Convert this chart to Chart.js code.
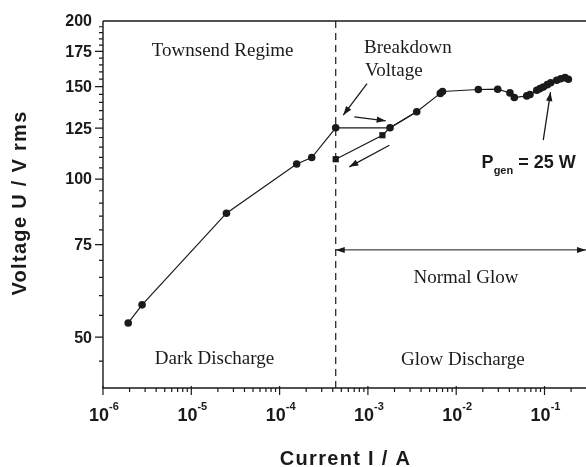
<!DOCTYPE html>
<html>
<head>
<meta charset="utf-8">
<script src="https://cdn.jsdelivr.net/npm/chart.js@4.4.0/dist/chart.umd.min.js"></script>
<style>
  html, body { margin: 0; padding: 0; background: #fff; }
  #chart { display: block; }
</style>
</head>
<body>
<canvas id="chart" width="586" height="467"></canvas>
<script>
// increasing current (circles)
const upCurrent = [1.93e-6, 2.77e-6, 2.5e-5, 1.56e-4, 2.31e-4, 4.32e-4, 1.78e-3, 3.57e-3,
  6.6e-3, 7.0e-3, 1.78e-2, 2.95e-2, 4.06e-2, 4.55e-2, 6.29e-2, 6.85e-2, 8.17e-2, 8.9e-2,
  9.7e-2, 0.1076, 0.1175, 0.1374, 0.1525, 0.1706, 0.1862];
const upVoltage = [53.2, 57.6, 86.1, 106.8, 109.9, 125.2, 125.2, 134.3,
  145.6, 146.8, 148.1, 148.3, 145.9, 143.0, 144.0, 144.9, 147.6, 148.7,
  149.7, 151.3, 152.6, 154.2, 155.3, 156.0, 154.9];

// decreasing current (squares), first two points lie on the up branch
const downCurrent = [3.57e-3, 1.78e-3, 1.46e-3, 4.32e-4];
const downVoltage = [134.3, 125.2, 121.2, 109.1];
const downMarker = [0, 0, 4.4, 4.4];

const xMin = 1e-6, xMax = 0.295;
const yMin = 40, yMax = 200;
const xTickExp = [-6, -5, -4, -3, -2, -1];
const yTickLabels = [50, 75, 100, 125, 150, 175, 200];

const breakdownCurrent = 4.32e-4;
const normalGlowVoltage = 73.3;

// annotation texts, anchored in data space
const serifTexts = [
  { text: 'Townsend Regime', x: 2.26e-5, y: 171.3, align: 'center' },
  { text: 'Breakdown', x: 9.04e-4, y: 173.8, align: 'left' },
  { text: 'Voltage', x: 9.27e-4, y: 157.1, align: 'left' },
  { text: 'Normal Glow', x: 1.29e-2, y: 63.4, align: 'center' },
  { text: 'Glow Discharge', x: 1.19e-2, y: 44.3, align: 'center' },
  { text: 'Dark Discharge', x: 1.83e-5, y: 44.4, align: 'center' }
];
// arrows [x1, y1, x2, y2] (tail -> head)
const arrows = [
  [9.77e-4, 152.0, 5.26e-4, 132.4],
  [7.02e-4, 131.4, 1.59e-3, 129.1],
  [1.75e-3, 116.0, 6.15e-4, 105.5],
  [9.68e-2, 118.6, 0.117, 146.4]
];
const pgenAnchor = [1.94e-2, 104.8];

const SANS = '"Liberation Sans", Arial, sans-serif';
const SERIF = '"Liberation Serif", "Times New Roman", serif';
const INK = '#1a1a1a';

function arrowHead(ctx, x1, y1, x2, y2, len, half) {
  const a = Math.atan2(y2 - y1, x2 - x1);
  ctx.beginPath();
  ctx.moveTo(x2, y2);
  ctx.lineTo(x2 - len * Math.cos(a) + half * Math.sin(a), y2 - len * Math.sin(a) - half * Math.cos(a));
  ctx.lineTo(x2 - len * Math.cos(a) - half * Math.sin(a), y2 - len * Math.sin(a) + half * Math.cos(a));
  ctx.closePath();
  ctx.fill();
}

function drawArrow(ctx, x1, y1, x2, y2) {
  ctx.beginPath();
  ctx.moveTo(x1, y1);
  ctx.lineTo(x2, y2);
  ctx.stroke();
  arrowHead(ctx, x1, y1, x2, y2, 9, 3.2);
}

const decor = {
  id: 'decor',
  beforeDatasetsDraw(chart) {
    const { ctx, chartArea: area } = chart;
    const xs = chart.scales.x, ys = chart.scales.y;
    ctx.save();
    ctx.strokeStyle = INK;
    ctx.fillStyle = INK;

    // dashed breakdown line
    const bx = xs.getPixelForValue(breakdownCurrent);
    ctx.lineWidth = 1.2;
    ctx.setLineDash([7, 5]);
    ctx.beginPath();
    ctx.moveTo(bx, area.top);
    ctx.lineTo(bx, area.bottom);
    ctx.stroke();
    ctx.setLineDash([]);

    // normal glow range
    const gy = ys.getPixelForValue(normalGlowVoltage);
    ctx.lineWidth = 1;
    ctx.beginPath();
    ctx.moveTo(bx, gy);
    ctx.lineTo(area.right, gy);
    ctx.stroke();
    arrowHead(ctx, area.right - 20, gy, area.right, gy, 9, 3);
    arrowHead(ctx, bx + 20, gy, bx, gy, 9, 3);

    ctx.lineWidth = 1.3;
    arrows.forEach(a => {
      drawArrow(ctx, xs.getPixelForValue(a[0]), ys.getPixelForValue(a[1]),
        xs.getPixelForValue(a[2]), ys.getPixelForValue(a[3]));
    });

    ctx.font = '19px ' + SERIF;
    ctx.textBaseline = 'alphabetic';
    serifTexts.forEach(t => {
      ctx.textAlign = t.align;
      ctx.fillText(t.text, xs.getPixelForValue(t.x), ys.getPixelForValue(t.y));
    });

    // P_gen = 25 W
    let px = xs.getPixelForValue(pgenAnchor[0]);
    const py = ys.getPixelForValue(pgenAnchor[1]);
    ctx.textAlign = 'left';
    ctx.font = 'bold 18px ' + SANS;
    ctx.fillText('P', px, py);
    px += ctx.measureText('P').width;
    ctx.font = 'bold 11px ' + SANS;
    ctx.fillText('gen', px, py + 6);
    px += ctx.measureText('gen').width;
    ctx.font = 'bold 18px ' + SANS;
    ctx.fillText(' = 25 W', px, py);
    ctx.restore();
  },
  afterDraw(chart) {
    const { ctx, chartArea: area } = chart;
    const xs = chart.scales.x, ys = chart.scales.y;
    ctx.save();
    ctx.strokeStyle = INK;
    ctx.fillStyle = INK;
    ctx.lineWidth = 1.4;

    // axis lines + top frame
    ctx.beginPath();
    ctx.moveTo(area.left, area.top);
    ctx.lineTo(area.right, area.top);
    ctx.moveTo(area.left, area.top);
    ctx.lineTo(area.left, area.bottom);
    ctx.lineTo(area.right, area.bottom);
    ctx.stroke();

    // x ticks
    ctx.lineWidth = 1.2;
    ctx.beginPath();
    xTickExp.forEach(k => {
      const major = Math.pow(10, k);
      const x = xs.getPixelForValue(major);
      ctx.moveTo(x, area.bottom - 2);
      ctx.lineTo(x, area.bottom + 7);
      for (let m = 2; m <= 9; m++) {
        const v = m * major;
        if (v > xMax) break;
        const xm = xs.getPixelForValue(v);
        ctx.moveTo(xm, area.bottom);
        ctx.lineTo(xm, area.bottom + 4);
      }
    });
    // y ticks
    for (let v = 45; v < yMax; v += 5) {
      const y = ys.getPixelForValue(v);
      const len = v % 25 === 0 ? 8 : 4;
      ctx.moveTo(area.left, y);
      ctx.lineTo(area.left - len, y);
    }
    ctx.stroke();

    // x tick labels 10^k
    xTickExp.forEach(k => {
      const x = xs.getPixelForValue(Math.pow(10, k));
      ctx.font = 'bold 18px ' + SANS;
      const w1 = ctx.measureText('10').width;
      ctx.font = 'bold 11px ' + SANS;
      const w2 = ctx.measureText(String(k)).width;
      const left = x - (w1 + w2) / 2 + 1;
      ctx.textAlign = 'left';
      ctx.textBaseline = 'alphabetic';
      ctx.font = 'bold 18px ' + SANS;
      ctx.fillText('10', left, area.bottom + 33);
      ctx.font = 'bold 11px ' + SANS;
      ctx.fillText(String(k), left + w1, area.bottom + 22);
    });

    // y tick labels
    ctx.font = 'bold 16px ' + SANS;
    ctx.textAlign = 'right';
    ctx.textBaseline = 'middle';
    yTickLabels.forEach(v => {
      ctx.fillText(String(v), area.left - 11, ys.getPixelForValue(v) + 1);
    });

    // axis titles
    ctx.font = 'bold 20px ' + SANS;
    ctx.letterSpacing = '1.3px';
    ctx.textAlign = 'center';
    ctx.textBaseline = 'alphabetic';
    ctx.fillText('Current I / A', (area.left + area.right) / 2 + 1, 465);
    ctx.translate(26, 203);
    ctx.rotate(-Math.PI / 2);
    ctx.fillText('Voltage U / V rms', 0, 0);
    ctx.restore();
  }
};

new Chart(document.getElementById('chart'), {
  type: 'line',
  data: {
    datasets: [
      {
        label: 'increasing',
        data: upCurrent.map((x, i) => ({ x: x, y: upVoltage[i] })),
        borderColor: INK,
        backgroundColor: INK,
        borderWidth: 1.2,
        pointStyle: 'circle',
        pointRadius: 3.8,
        pointBorderWidth: 0,
        tension: 0
      },
      {
        label: 'decreasing',
        data: downCurrent.map((x, i) => ({ x: x, y: downVoltage[i] })),
        borderColor: INK,
        backgroundColor: INK,
        borderWidth: 1.2,
        pointStyle: 'rect',
        pointRadius: downMarker,
        pointBorderWidth: 0,
        tension: 0
      }
    ]
  },
  options: {
    responsive: false,
    animation: false,
    devicePixelRatio: 1,
    layout: { autoPadding: false, padding: { top: 21, right: 0, left: 0, bottom: 0 } },
    plugins: { legend: { display: false }, tooltip: { enabled: false } },
    scales: {
      x: {
        type: 'logarithmic',
        min: xMin,
        max: xMax,
        grid: { display: false },
        border: { display: false },
        ticks: { display: false },
        afterFit: s => { s.height = 79; }
      },
      y: {
        type: 'logarithmic',
        min: yMin,
        max: yMax,
        grid: { display: false },
        border: { display: false },
        ticks: { display: false },
        afterFit: s => { s.width = 103; }
      }
    }
  },
  plugins: [decor]
});
</script>
</body>
</html>
